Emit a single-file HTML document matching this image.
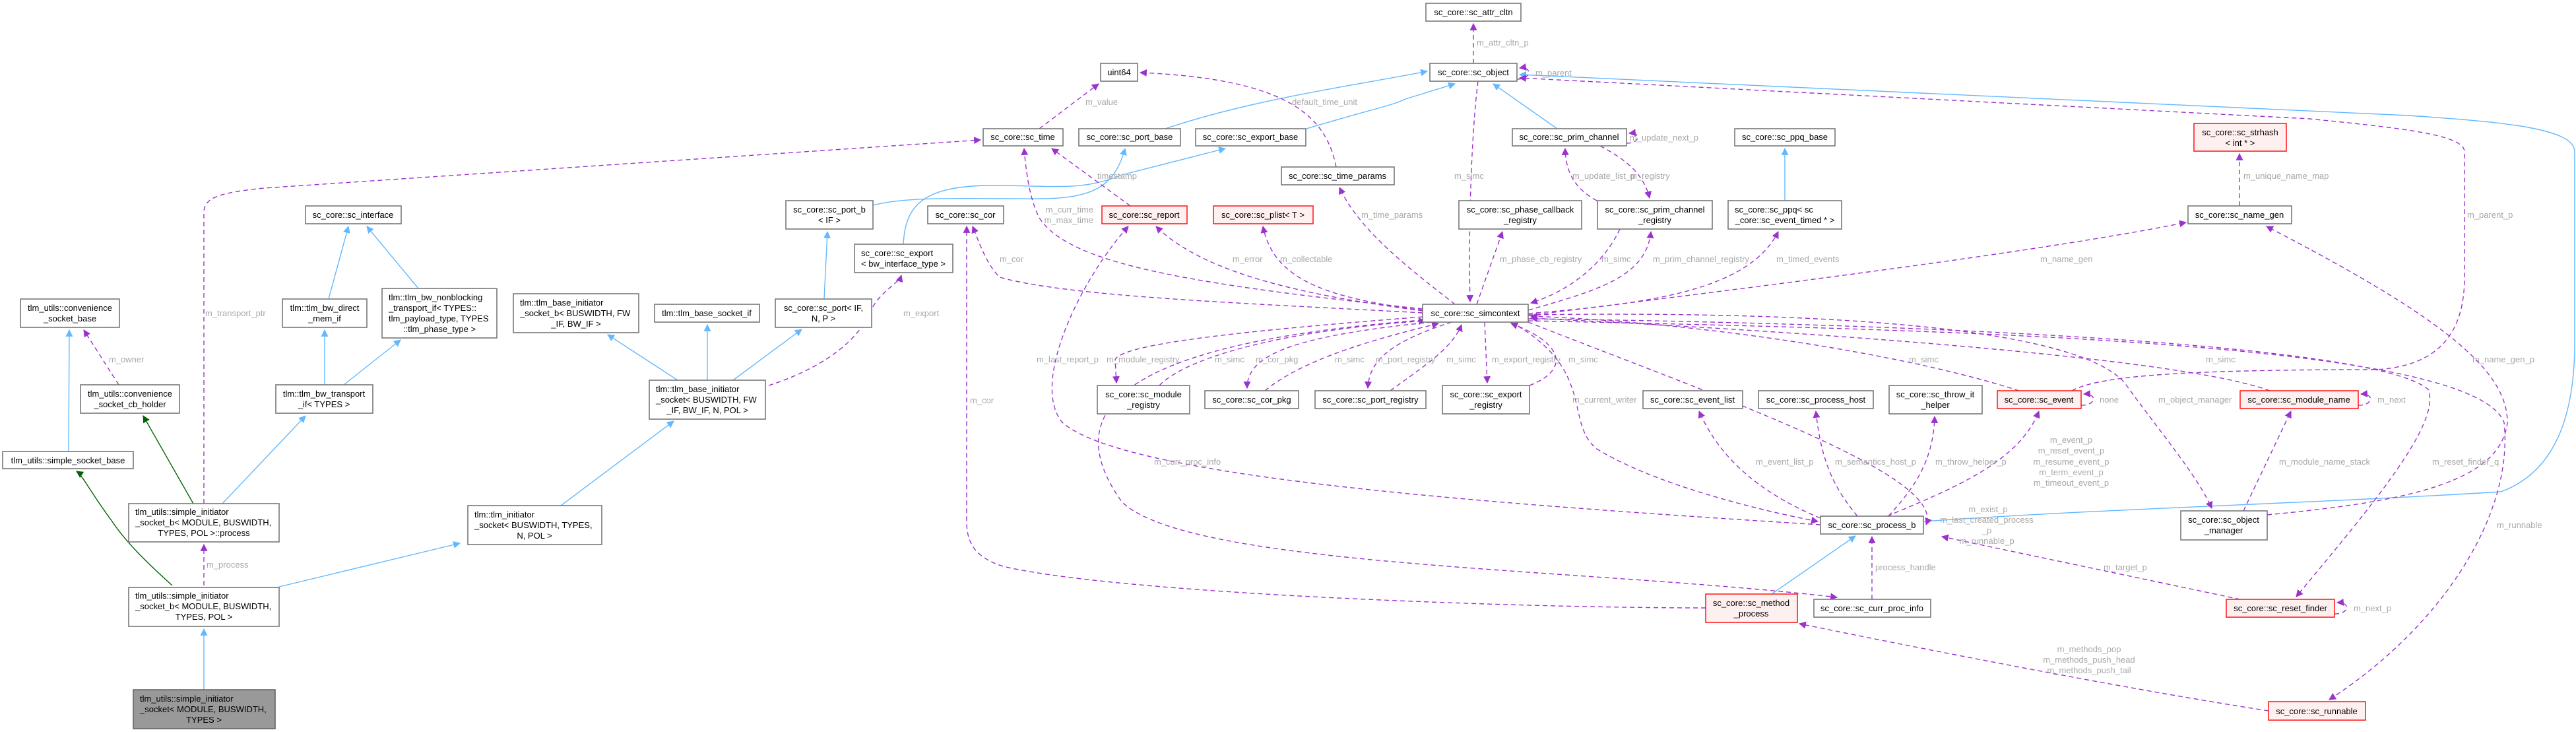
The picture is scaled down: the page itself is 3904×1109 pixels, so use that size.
<!DOCTYPE html>
<html><head><meta charset="utf-8"><style>
html,body{margin:0;padding:0;background:#fff;}
body{width:3904px;height:1109px;overflow:hidden;}
svg{display:block;}
.n{fill:#fff;stroke:#777;stroke-width:1.6;}
.r{fill:#fff0f0;stroke:#ff2020;stroke-width:1.6;}
.gy{fill:#999;stroke:#666;stroke-width:1.6;}
text{font-family:"Liberation Sans",Arial,sans-serif;font-size:13px;fill:#000;}
.l{fill:#a8a8a8;}
.b{fill:none;stroke:#63b8ff;stroke-width:1.4;}
.g{fill:none;stroke:#006400;stroke-width:1.4;}
.d{fill:none;stroke:#9a32cd;stroke-width:1.4;stroke-dasharray:7,5;}
</style></head><body>
<svg width="3904" height="1109" viewBox="0 0 3904 1109" xmlns="http://www.w3.org/2000/svg">
<defs>
<marker id="mb" viewBox="0 0 10 10" refX="9" refY="5" markerWidth="11" markerHeight="11" markerUnits="userSpaceOnUse" orient="auto"><path d="M0,0 L10,5 L0,10 z" fill="#63b8ff"/></marker>
<marker id="mg" viewBox="0 0 10 10" refX="9" refY="5" markerWidth="11" markerHeight="11" markerUnits="userSpaceOnUse" orient="auto"><path d="M0,0 L10,5 L0,10 z" fill="#006400"/></marker>
<marker id="md" viewBox="0 0 10 10" refX="9" refY="5" markerWidth="11" markerHeight="11" markerUnits="userSpaceOnUse" orient="auto"><path d="M0,0 L10,5 L0,10 z" fill="#9a32cd"/></marker>
</defs>

<!-- blue edges -->
<g class="b" marker-end="url(#mb)">
<path class="b" marker-end="url(#mb)" d="M104,684 L105,500"/>
<path class="b" marker-end="url(#mb)" d="M498,453 L528,343"/>
<path class="b" marker-end="url(#mb)" d="M634,437 L556,343"/>
<path class="b" marker-end="url(#mb)" d="M492,583 L492,500"/>
<path class="b" marker-end="url(#mb)" d="M521,583 L607,515"/>
<path class="b" marker-end="url(#mb)" d="M337,763 L463,630"/>
<path class="b" marker-end="url(#mb)" d="M1027,576 L921,507"/>
<path class="b" marker-end="url(#mb)" d="M1072,576 L1072,492"/>
<path class="b" marker-end="url(#mb)" d="M1111,576 L1215,499"/>
<path class="b" marker-end="url(#mb)" d="M1249,453 L1254,351"/>
<path class="b" marker-end="url(#mb)" d="M850,766 L1021,638"/>
<path class="b" marker-end="url(#mb)" d="M423,889 L697,823"/>
<path class="b" marker-end="url(#mb)" d="M309,1045 L309,953"/>
<path class="b" marker-end="url(#mb)" d="M1323,311 C1380,296 1480,302 1580,301 C1660,300 1690,280 1705,225"/>
<path class="b" marker-end="url(#mb)" d="M1369,370 C1372,310 1400,282 1500,281 C1600,281 1640,290 1700,265 L1857,225"/>
<path class="b" marker-end="url(#mb)" d="M1766,195 C1900,150 2050,130 2163,108"/>
<path class="b" marker-end="url(#mb)" d="M1980,195 C2080,165 2110,160 2130,150 L2205,127"/>
<path class="b" marker-end="url(#mb)" d="M2360,195 L2263,127"/>
<path class="b" marker-end="url(#mb)" d="M2705,304 L2705,225"/>
<path class="b" marker-end="url(#mb)" d="M2685,900 L2812,812"/>
<path class="b" marker-end="url(#mb)" d="M2915,790 C3200,770 3500,763 3790,745 C3860,720 3902,650 3902,520 L3902,230 C3902,195 3800,185 3650,175 L2303,113"/>
</g>
<!-- green edges -->
<path class="g" marker-end="url(#mg)" d="M293,763 L217,630"/>
<path class="g" marker-end="url(#mg)" d="M261,887 C220,850 190,820 170,790 C140,750 125,720 116,714"/>

<!-- purple dashed edges -->
<path class="d" marker-end="url(#md)" d="M2233,96 L2233,36"/>
<path class="d" marker-end="url(#md)" d="M2299,120 C2322,120 2322,100 2303,103"/>
<path class="d" marker-end="url(#md)" d="M1575,195 L1665,127"/>
<path class="d" marker-end="url(#md)" d="M2025,253 C2010,180 1960,120 1728,110"/>
<path class="d" marker-end="url(#md)" d="M1713,312 L1594,225"/>
<path class="d" marker-end="url(#md)" d="M2156,468 C1800,430 1620,400 1575,330 C1560,300 1555,260 1552,225"/>
<path class="d" marker-end="url(#md)" d="M309,763 L309,322 C309,300 330,292 400,285 L1486,212"/>
<path class="d" marker-end="url(#md)" d="M180,583 L127,500"/>
<path class="d" marker-end="url(#md)" d="M309,887 L309,825"/>
<path class="d" marker-end="url(#md)" d="M1165,584 C1240,560 1300,520 1320,470 C1335,440 1362,430 1366,417"/>
<path class="d" marker-end="url(#md)" d="M2585,921 C2300,921 1700,900 1520,858 C1480,845 1465,825 1465,790 L1465,343"/>
<path class="d" marker-end="url(#md)" d="M2156,474 C1900,460 1620,450 1515,420 C1495,400 1485,370 1474,343"/>
<path class="d" marker-end="url(#md)" d="M2156,471 C2000,450 1830,420 1752,343"/>
<path class="d" marker-end="url(#md)" d="M2759,795 C2200,760 1700,720 1610,640 C1560,580 1640,420 1710,343"/>
<path class="d" marker-end="url(#md)" d="M2156,470 C2000,450 1930,420 1914,343"/>
<path class="d" marker-end="url(#md)" d="M2205,461 C2140,410 2060,350 2030,284"/>
<path class="d" marker-end="url(#md)" d="M2240,123 C2230,200 2225,350 2228,457"/>
<path class="d" marker-end="url(#md)" d="M2420,304 C2395,290 2373,270 2372,225"/>
<path class="d" marker-end="url(#md)" d="M2425,221 C2460,240 2490,260 2500,300"/>
<path class="d" marker-end="url(#md)" d="M2465,217 C2487,217 2487,200 2469,202"/>
<path class="d" marker-end="url(#md)" d="M2238,461 L2277,351"/>
<path class="d" marker-end="url(#md)" d="M2455,347 C2430,400 2380,440 2320,459"/>
<path class="d" marker-end="url(#md)" d="M2316,470 C2420,440 2495,420 2502,351"/>
<path class="d" marker-end="url(#md)" d="M2316,475 C2500,460 2650,440 2695,351"/>
<path class="d" marker-end="url(#md)" d="M2316,478 C2700,430 3100,380 3313,337"/>
<path class="d" marker-end="url(#md)" d="M3394,312 L3394,233"/>
<path class="d" marker-end="url(#md)" d="M3140,592 C3180,570 3300,560 3600,560 C3700,555 3735,500 3735,420 L3735,230 C3735,205 3650,195 3500,180 L2303,118"/>
<path class="d" marker-end="url(#md)" d="M3060,592 C2900,540 2600,490 2320,479"/>
<path class="d" marker-end="url(#md)" d="M3440,592 C3300,540 2700,500 2320,482"/>
<path class="d" marker-end="url(#md)" d="M2316,477 C2800,470 3150,500 3220,580 C3270,650 3330,720 3352,770"/>
<path class="d" marker-end="url(#md)" d="M3400,774 L3472,623"/>
<path class="d" marker-end="url(#md)" d="M3574,614 C3598,614 3598,596 3578,597"/>
<path class="d" marker-end="url(#md)" d="M3436,780 C3650,760 3790,730 3800,640 C3800,560 3700,480 3435,343"/>
<path class="d" marker-end="url(#md)" d="M2316,483 C2900,490 3600,520 3680,590 C3700,640 3600,760 3480,904"/>
<path class="d" marker-end="url(#md)" d="M2316,486 C3000,500 3750,520 3795,640 C3810,780 3700,950 3530,1060"/>
<path class="d" marker-end="url(#md)" d="M3538,930 C3562,930 3562,912 3542,913"/>
<path class="d" marker-end="url(#md)" d="M3154,614 C3178,614 3178,596 3158,597"/>
<path class="d" marker-end="url(#md)" d="M3395,908 L2943,813"/>
<path class="d" marker-end="url(#md)" d="M2860,782 C2960,740 3060,700 3090,623"/>
<path class="d" marker-end="url(#md)" d="M2862,782 C2900,740 2930,700 2932,631"/>
<path class="d" marker-end="url(#md)" d="M2815,782 C2780,740 2760,700 2752,623"/>
<path class="d" marker-end="url(#md)" d="M2759,785 C2650,740 2600,680 2575,623"/>
<path class="d" marker-end="url(#md)" d="M2837,908 L2837,813"/>
<path class="d" marker-end="url(#md)" d="M2156,485 C1700,520 1600,620 1700,760 C1800,860 2400,860 2784,905"/>
<path class="d" marker-end="url(#md)" d="M2316,488 C2600,600 2950,720 2919,795"/>
<path class="d" marker-end="url(#md)" d="M3438,1077 C3200,1040 2900,980 2727,945"/>
<path class="d" marker-end="url(#md)" d="M2290,488 C2420,560 2370,640 2420,680 C2500,730 2650,770 2755,790"/>
<path class="d" marker-end="url(#md)" d="M2156,480 C1900,500 1700,520 1690,545 L1692,580"/>
<path class="d" marker-end="url(#md)" d="M1757,584 C1800,540 1950,500 2160,486"/>
<path class="d" marker-end="url(#md)" d="M2170,488 C1950,510 1890,540 1890,588"/>
<path class="d" marker-end="url(#md)" d="M1917,592 C1980,540 2100,510 2180,490"/>
<path class="d" marker-end="url(#md)" d="M2200,488 C2100,520 2075,550 2073,588"/>
<path class="d" marker-end="url(#md)" d="M2107,592 C2150,560 2200,530 2215,492"/>
<path class="d" marker-end="url(#md)" d="M2250,488 L2254,580"/>
<path class="d" marker-end="url(#md)" d="M2318,584 C2380,560 2370,520 2290,490"/>

<!-- nodes -->
<rect class="n" x="2161" y="5" width="144" height="27"/><text x="2233" y="23" text-anchor="middle">sc_core::sc_attr_cltn</text>
<rect class="n" x="1668" y="96" width="56" height="27"/><text x="1696" y="114" text-anchor="middle">uint64</text>
<rect class="n" x="2167" y="96" width="132" height="27"/><text x="2233" y="114" text-anchor="middle">sc_core::sc_object</text>
<rect class="n" x="1490" y="195" width="121" height="26"/><text x="1550" y="212" text-anchor="middle">sc_core::sc_time</text>
<rect class="n" x="1635" y="195" width="154" height="26"/><text x="1712" y="212" text-anchor="middle">sc_core::sc_port_base</text>
<rect class="n" x="1812" y="195" width="167" height="26"/><text x="1895" y="212" text-anchor="middle">sc_core::sc_export_base</text>
<rect class="n" x="2292" y="195" width="173" height="26"/><text x="2378" y="212" text-anchor="middle">sc_core::sc_prim_channel</text>
<rect class="n" x="2629" y="195" width="152" height="26"/><text x="2705" y="212" text-anchor="middle">sc_core::sc_ppq_base</text>
<rect class="r" x="3325" y="187" width="140" height="42"/><text x="3395" y="205" text-anchor="middle">sc_core::sc_strhash</text><text x="3395" y="221" text-anchor="middle">&lt; int * &gt;</text>
<rect class="n" x="1942" y="253" width="171" height="27"/><text x="2027" y="271" text-anchor="middle">sc_core::sc_time_params</text>
<rect class="n" x="463" y="312" width="145" height="27"/><text x="535" y="330" text-anchor="middle">sc_core::sc_interface</text>
<rect class="n" x="1191" y="304" width="132" height="43"/><text x="1257" y="322" text-anchor="middle">sc_core::sc_port_b</text><text x="1257" y="338" text-anchor="middle">&lt; IF &gt;</text>
<rect class="n" x="1406" y="312" width="115" height="27"/><text x="1463" y="330" text-anchor="middle">sc_core::sc_cor</text>
<rect class="r" x="1670" y="312" width="129" height="27"/><text x="1734" y="330" text-anchor="middle">sc_core::sc_report</text>
<rect class="r" x="1839" y="312" width="151" height="27"/><text x="1914" y="330" text-anchor="middle">sc_core::sc_plist&lt; T &gt;</text>
<rect class="n" x="2211" y="304" width="186" height="43"/><text x="2304" y="322" text-anchor="middle">sc_core::sc_phase_callback</text><text x="2304" y="338" text-anchor="middle">_registry</text>
<rect class="n" x="2421" y="304" width="174" height="43"/><text x="2508" y="322" text-anchor="middle">sc_core::sc_prim_channel</text><text x="2508" y="338" text-anchor="middle">_registry</text>
<rect class="n" x="2619" y="304" width="172" height="43"/><text x="2629" y="322">sc_core::sc_ppq&lt; sc</text><text x="2705" y="338" text-anchor="middle">_core::sc_event_timed * &gt;</text>
<rect class="n" x="3316" y="312" width="157" height="27"/><text x="3394" y="330" text-anchor="middle">sc_core::sc_name_gen</text>
<rect class="n" x="1295" y="370" width="149" height="43"/><text x="1305" y="388">sc_core::sc_export</text><text x="1369" y="404" text-anchor="middle">&lt; bw_interface_type &gt;</text>
<rect class="n" x="31" y="453" width="150" height="43"/><text x="106" y="471" text-anchor="middle">tlm_utils::convenience</text><text x="106" y="487" text-anchor="middle">_socket_base</text>
<rect class="n" x="428" y="453" width="128" height="43"/><text x="492" y="471" text-anchor="middle">tlm::tlm_bw_direct</text><text x="492" y="487" text-anchor="middle">_mem_if</text>
<rect class="n" x="579" y="437" width="174" height="75"/><text x="589" y="455">tlm::tlm_bw_nonblocking</text><text x="589" y="471">_transport_if&lt; TYPES::</text><text x="589" y="487">tlm_payload_type, TYPES</text><text x="666" y="503" text-anchor="middle">::tlm_phase_type &gt;</text>
<rect class="n" x="778" y="445" width="190" height="59"/><text x="788" y="463">tlm::tlm_base_initiator</text><text x="788" y="479">_socket_b&lt; BUSWIDTH, FW</text><text x="873" y="495" text-anchor="middle">_IF, BW_IF &gt;</text>
<rect class="n" x="992" y="461" width="159" height="27"/><text x="1071" y="479" text-anchor="middle">tlm::tlm_base_socket_if</text>
<rect class="n" x="1175" y="453" width="146" height="43"/><text x="1248" y="471" text-anchor="middle">sc_core::sc_port&lt; IF,</text><text x="1248" y="487" text-anchor="middle">N, P &gt;</text>
<rect class="n" x="2156" y="461" width="160" height="27"/><text x="2236" y="479" text-anchor="middle">sc_core::sc_simcontext</text>
<rect class="n" x="984" y="576" width="176" height="59"/><text x="994" y="594">tlm::tlm_base_initiator</text><text x="994" y="610">_socket&lt; BUSWIDTH, FW</text><text x="1072" y="626" text-anchor="middle">_IF, BW_IF, N, POL &gt;</text>
<rect class="n" x="122" y="583" width="150" height="43"/><text x="197" y="601" text-anchor="middle">tlm_utils::convenience</text><text x="197" y="617" text-anchor="middle">_socket_cb_holder</text>
<rect class="n" x="418" y="583" width="147" height="43"/><text x="491" y="601" text-anchor="middle">tlm::tlm_bw_transport</text><text x="491" y="617" text-anchor="middle">_if&lt; TYPES &gt;</text>
<rect class="n" x="1663" y="584" width="140" height="43"/><text x="1733" y="602" text-anchor="middle">sc_core::sc_module</text><text x="1733" y="618" text-anchor="middle">_registry</text>
<rect class="n" x="1826" y="592" width="142" height="27"/><text x="1897" y="610" text-anchor="middle">sc_core::sc_cor_pkg</text>
<rect class="n" x="1993" y="592" width="168" height="27"/><text x="2077" y="610" text-anchor="middle">sc_core::sc_port_registry</text>
<rect class="n" x="2186" y="584" width="132" height="43"/><text x="2252" y="602" text-anchor="middle">sc_core::sc_export</text><text x="2252" y="618" text-anchor="middle">_registry</text>
<rect class="n" x="2490" y="592" width="151" height="27"/><text x="2565" y="610" text-anchor="middle">sc_core::sc_event_list</text>
<rect class="n" x="2665" y="592" width="174" height="27"/><text x="2752" y="610" text-anchor="middle">sc_core::sc_process_host</text>
<rect class="n" x="2863" y="584" width="141" height="43"/><text x="2933" y="602" text-anchor="middle">sc_core::sc_throw_it</text><text x="2933" y="618" text-anchor="middle">_helper</text>
<rect class="r" x="3027" y="592" width="127" height="27"/><text x="3090" y="610" text-anchor="middle">sc_core::sc_event</text>
<rect class="r" x="3395" y="592" width="179" height="27"/><text x="3484" y="610" text-anchor="middle">sc_core::sc_module_name</text>
<rect class="n" x="4" y="684" width="198" height="26"/><text x="103" y="702" text-anchor="middle">tlm_utils::simple_socket_base</text>
<rect class="n" x="195" y="763" width="228" height="58"/><text x="205" y="780">tlm_utils::simple_initiator</text><text x="205" y="796">_socket_b&lt; MODULE, BUSWIDTH,</text><text x="309" y="812" text-anchor="middle">TYPES, POL &gt;::process</text>
<rect class="n" x="709" y="766" width="203" height="59"/><text x="719" y="784">tlm::tlm_initiator</text><text x="719" y="800">_socket&lt; BUSWIDTH, TYPES,</text><text x="810" y="816" text-anchor="middle">N, POL &gt;</text>
<rect class="n" x="2759" y="782" width="156" height="27"/><text x="2837" y="800" text-anchor="middle">sc_core::sc_process_b</text>
<rect class="n" x="3305" y="774" width="131" height="44"/><text x="3370" y="792" text-anchor="middle">sc_core::sc_object</text><text x="3370" y="808" text-anchor="middle">_manager</text>
<rect class="n" x="195" y="890" width="228" height="59"/><text x="205" y="907">tlm_utils::simple_initiator</text><text x="205" y="923">_socket_b&lt; MODULE, BUSWIDTH,</text><text x="309" y="939" text-anchor="middle">TYPES, POL &gt;</text>
<rect class="r" x="2585" y="900" width="139" height="43"/><text x="2654" y="918" text-anchor="middle">sc_core::sc_method</text><text x="2654" y="934" text-anchor="middle">_process</text>
<rect class="n" x="2749" y="908" width="177" height="27"/><text x="2837" y="926" text-anchor="middle">sc_core::sc_curr_proc_info</text>
<rect class="r" x="3374" y="908" width="164" height="27"/><text x="3456" y="926" text-anchor="middle">sc_core::sc_reset_finder</text>
<rect class="r" x="3438" y="1063" width="147" height="28"/><text x="3511" y="1082" text-anchor="middle">sc_core::sc_runnable</text>
<rect class="gy" x="202" y="1045" width="215" height="59"/><text x="212" y="1063">tlm_utils::simple_initiator</text><text x="212" y="1079">_socket&lt; MODULE, BUSWIDTH,</text><text x="309" y="1095" text-anchor="middle">TYPES &gt;</text>

<!-- labels -->
<g class="l">
<text class="l" x="2238" y="69">m_attr_cltn_p</text>
<text class="l" x="2327" y="115">m_parent</text>
<text class="l" x="1645" y="159">m_value</text>
<text class="l" x="1958" y="159">default_time_unit</text>
<text class="l" x="1663" y="271">timestamp</text>
<text class="l" x="2204" y="271">m_simc</text>
<text class="l" x="2383" y="271">m_update_list_p</text>
<text class="l" x="2470" y="213">m_update_next_p</text>
<text class="l" x="2470" y="271">m_registry</text>
<text class="l" x="1657" y="322" text-anchor="end">m_curr_time</text>
<text class="l" x="1657" y="338" text-anchor="end">m_max_time</text>
<text class="l" x="2063" y="330">m_time_params</text>
<text class="l" x="3400" y="271">m_unique_name_map</text>
<text class="l" x="3739" y="330">m_parent_p</text>
<text class="l" x="311" y="479">m_transport_ptr</text>
<text class="l" x="165" y="549">m_owner</text>
<text class="l" x="313" y="860">m_process</text>
<text class="l" x="1369" y="479">m_export</text>
<text class="l" x="1515" y="397">m_cor</text>
<text class="l" x="1470" y="611">m_cor</text>
<text class="l" x="1868" y="397">m_error</text>
<text class="l" x="1940" y="397">m_collectable</text>
<text class="l" x="2273" y="397">m_phase_cb_registry</text>
<text class="l" x="2427" y="397">m_simc</text>
<text class="l" x="2505" y="397">m_prim_channel_registry</text>
<text class="l" x="2692" y="397">m_timed_events</text>
<text class="l" x="3092" y="397">m_name_gen</text>
<text class="l" x="1571" y="549">m_last_report_p</text>
<text class="l" x="1677" y="549">m_module_registry</text>
<text class="l" x="1841" y="549">m_simc</text>
<text class="l" x="1903" y="549">m_cor_pkg</text>
<text class="l" x="2023" y="549">m_simc</text>
<text class="l" x="2085" y="549">m_port_registry</text>
<text class="l" x="2192" y="549">m_simc</text>
<text class="l" x="2261" y="549">m_export_registry</text>
<text class="l" x="2377" y="549">m_simc</text>
<text class="l" x="2383" y="610">m_current_writer</text>
<text class="l" x="1749" y="704">m_curr_proc_info</text>
<text class="l" x="2893" y="549">m_simc</text>
<text class="l" x="3343" y="549">m_simc</text>
<text class="l" x="3182" y="610">none</text>
<text class="l" x="3271" y="610">m_object_manager</text>
<text class="l" x="2661" y="704">m_event_list_p</text>
<text class="l" x="2781" y="704">m_semantics_host_p</text>
<text class="l" x="2933" y="704">m_throw_helper_p</text>
<text class="l" x="3139" y="671" text-anchor="middle">m_event_p</text>
<text class="l" x="3139" y="687" text-anchor="middle">m_reset_event_p</text>
<text class="l" x="3139" y="704" text-anchor="middle">m_resume_event_p</text>
<text class="l" x="3139" y="720" text-anchor="middle">m_term_event_p</text>
<text class="l" x="3139" y="736" text-anchor="middle">m_timeout_event_p</text>
<text class="l" x="3013" y="776" text-anchor="middle">m_exist_p</text>
<text class="l" x="3011" y="792" text-anchor="middle">m_last_created_process</text>
<text class="l" x="3011" y="808" text-anchor="middle">_p</text>
<text class="l" x="3011" y="824" text-anchor="middle">m_runnable_p</text>
<text class="l" x="2842" y="864">process_handle</text>
<text class="l" x="3188" y="864">m_target_p</text>
<text class="l" x="3166" y="988" text-anchor="middle">m_methods_pop</text>
<text class="l" x="3166" y="1004" text-anchor="middle">m_methods_push_head</text>
<text class="l" x="3166" y="1020" text-anchor="middle">m_methods_push_tail</text>
<text class="l" x="3603" y="610">m_next</text>
<text class="l" x="3747" y="549">m_name_gen_p</text>
<text class="l" x="3454" y="704">m_module_name_stack</text>
<text class="l" x="3686" y="704">m_reset_finder_q</text>
<text class="l" x="3784" y="800">m_runnable</text>
<text class="l" x="3567" y="926">m_next_p</text>
</g>
</svg>
</body></html>
